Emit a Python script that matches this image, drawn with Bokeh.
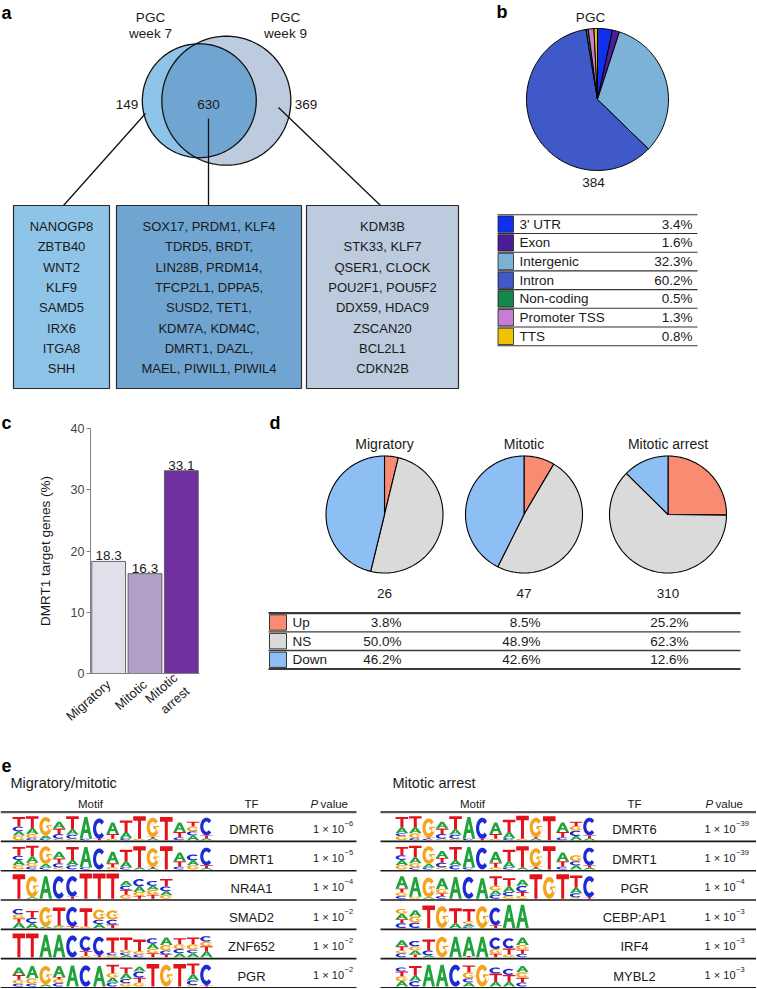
import math
import numpy as np
from bokeh.plotting import figure
from bokeh.models import Range1d, FactorRange, ColumnDataSource, FixedTicker
from bokeh.layouts import column, row
from bokeh.embed import file_html
from bokeh.resources import INLINE
from bokeh.core.properties import value

S = 1.0
FONT = "Liberation Sans"
INK = "#1a1a1a"
XMAX = 756
YMAX = 988

# ---------------- data ----------------
# panel a
venn_titles = [["PGC", "week 7"], ["PGC", "week 9"]]
only_week7 = 149
shared = 630
only_week9 = 369
genes_week7_only = ["NANOGP8", "ZBTB40", "WNT2", "KLF9", "SAMD5", "IRX6", "ITGA8", "SHH"]
genes_shared = ["SOX17, PRDM1, KLF4", "TDRD5, BRDT,", "LIN28B, PRDM14,", "TFCP2L1, DPPA5,",
                "SUSD2, TET1,", "KDM7A, KDM4C,", "DMRT1, DAZL,", "MAEL, PIWIL1, PIWIL4"]
genes_week9_only = ["KDM3B", "STK33, KLF7", "QSER1, CLOCK", "POU2F1, POU5F2",
                    "DDX59, HDAC9", "ZSCAN20", "BCL2L1", "CDKN2B"]
venn_colors = ["#8ec4e8", "#6fa5d0", "#bccbdd"]  # week7-only, shared, week9-only

# panel b
anno_title = "PGC"
anno_total = 384
anno_names = ["3' UTR", "Exon", "Intergenic", "Intron", "Non-coding", "Promoter TSS", "TTS"]
anno_pct = [3.4, 1.6, 32.3, 60.2, 0.5, 1.3, 0.8]
anno_colors = ["#1030f0", "#4b1d96", "#7db2d8", "#4059c8", "#14874b", "#c87dd2", "#f0c200"]

# panel c
bar_labels = ["Migratory", "Mitotic", "Mitotic\narrest"]
dmrt1_target_pct = [18.3, 16.3, 33.1]
bar_colors = ["#e2deec", "#b2a0cb", "#7030a0"]
bar_ticks = [0, 10, 20, 30, 40]

# panel d
stage_names = ["Migratory", "Mitotic", "Mitotic arrest"]
stage_counts = [26, 47, 310]
de_classes = ["Up", "NS", "Down"]
de_up = [3.8, 8.5, 25.2]
de_ns = [50.0, 48.9, 62.3]
de_down = [46.2, 42.6, 12.6]
de_colors = ["#f88b72", "#dadada", "#8dbff5"]

# panel e
left_title = "Migratory/mitotic"
right_title = "Mitotic arrest"
left_tf = ["DMRT6", "DMRT1", "NR4A1", "SMAD2", "ZNF652", "PGR"]
left_p_exp = [-6, -5, -4, -2, -2, -2]
right_tf = ["DMRT6", "DMRT1", "PGR", "CEBP:AP1", "IRF4", "MYBL2"]
right_p_exp = [-39, -39, -4, -3, -3, -3]

# sequence logos: per position, letters bottom->top with height in bits
logo_dmrt6_l = ["G.35 A.3 C.35 T.7", "C.15 G.3 A.45 T.85", "C.1 A.25 G1.35", "G.1 C.35 T.4 A.5",
                "G.1 C.3 A.4 T.95", "C.1 A1.6", "T.1 C1.5", "G.1 T.35 A.85", "C.15 A.45 T.85",
                "G.1 T1.65", "A.15 T.1 G1.4", "T1.7", "C.2 T.4 A.7", "A.35 C.3 G.35 T.35", "A.15 T.2 C1.3"]
logo_dmrt1_l = ["G.3 A.4 C.3 T.65", "C.2 G.3 A.45 T.8", "C.15 A.25 G1.3", "G.15 C.3 T.35 A.5",
                "C.3 A.4 T.95", "C.15 A1.5", "C1.55", "G.15 T.3 A.85", "C.15 A.45 T.85",
                "A.15 T1.55", "A.1 T.1 G1.35", "T1.7", "C.2 T.4 A.65", "G.3 A.35 C.45", "A.1 T.2 C1.3"]
logo_nr4a1_l = ["T1.8", "A.1 G1.55", "A1.65", "C1.65", "T.15 C1.5", "T1.85", "T1.85", "T1.85",
                "G.3 T.35 C.3 A.35", "T.2 G.3 A.4 C.55", "T.3 G.35 A.3 C.35", "G.25 A.3 C.35 T.55"]
logo_smad2_l = ["A.4 T.3 G.3 C.4", "A.35 C.4 T.5", "A.1 G1.45", "G.1 A.1 T1.3", "T.1 C1.45",
                "G.1 T1.35", "A.3 C.3 G.75", "T.25 C.35 G.7"]
logo_znf652_l = ["T1.75", "T1.75", "A1.65", "A1.65", "C1.6", "G.1 T.35 C1.1", "T.15 C1.35",
                 "G.15 C.2 T1.1", "A.15 C.2 G.2 T.9", "C.2 G.25 T.85", "T.3 G.3 A.4 C.4",
                 "T.2 C.3 G.4 A.55", "A.3 C.3 G.35 T.45", "A.3 C.25 G.4 T.5", "A.45 T.35 G.35 C.4"]
logo_pgr_l = ["C.2 G.3 T.35 A.55", "C.2 G.4 A.9", "A.15 G1.35", "C.25 G.3 T.15 A.8", "A1.55",
              "C1.55", "A1.5", "C.3 A.35 G.35 T.6", "G.25 C.3 A.4 T.45", "G.3 T.35 C.45 A.35",
              "T1.65", "G1.6", "T1.65", "G.1 C.35 A.45 T.8", "T.1 C1.5"]
logo_dmrt6_r = ["G.3 C.2 A.45 T.75", "C.15 G.35 A.45 T.8", "C.1 T.1 G1.4", "G.1 C.35 T.4 A.5",
                "G.1 C.3 A.4 T.95", "C.1 A1.6", "T.1 C1.55", "G.1 T.35 A.85", "C.15 A.45 T.9",
                "G.1 T1.7", "A.15 T.1 G1.4", "T1.75", "C.2 T.4 A.7", "A.3 C.4 G.35 T.3", "A.15 T.2 C1.3"]
logo_dmrt1_r = ["G.3 A.4 C.35 T.6", "C.15 G.3 A.45 T.85", "C.15 A.25 G1.3", "G.15 C.35 T.35 A.5",
                "C.3 A.4 T.95", "C.15 A1.5", "C1.6", "G.15 T.35 A.8", "C.15 A.45 T.85",
                "A.15 T1.55", "A.1 T.1 G1.35", "T1.7", "C.2 T.4 A.65", "A.3 C.3 G.45", "A.15 T.15 C1.3"]
logo_pgr_r = ["C.2 G.25 T.3 A.9", "G.15 A1.45", "A.1 G1.45", "C.2 T.2 G.3 A.8", "A1.6", "C1.6",
              "A1.5", "C.3 A.3 G.35 T.7", "G.2 C.3 A.4 T.6", "G.2 T.3 C.45 A.45", "T1.8", "G1.6",
              "T1.8", "G.1 C.3 A.4 T.9", "T.1 C1.55"]
logo_cebp_r = ["C.35 T.3 A.4 G.35", "C.4 G.45 A.45", "T1.65", "G1.6", "A.35 T1.1",
               "C.1 A.2 G.2 T.9", "G1.6", "T.2 C1.3", "A1.7", "A1.7"]
logo_irf4_r = ["C.3 G.2 T.3 A.45", "T.2 A.3 G.3 C.4", "A.15 C.35 T.8", "G1.5", "A1.5", "T.1 A1.4",
               "A1.5", "T.25 G.35 C.85", "G.2 T.45 C.75", "C.25 T.3 G.35 A.55"]
logo_mybl2_r = ["A.4 G.35 T.35 C.3", "C.4 A.4 T.7", "A1.6", "A1.6", "C1.6", "A.3 C.3 G.45 T.5",
                "G1.6", "A.35 T.6 C.45", "A.35 T.5 C.45", "C.3 T.35 G.4 A.45"]
logo_colors = {"A": "#21a33c", "C": "#1b2bd6", "G": "#f5a31a", "T": "#e3131b"}


# ---------------- helpers ----------------
def fs(px):
    return f"{px * S:.2f}px"


def no_align(p):
    try:
        p.frame_align = False
    except Exception:
        pass


def canvas(x0, x1, y0, y1):
    p = figure(width=round((x1 - x0) * S), height=round((y1 - y0) * S),
               x_range=Range1d(x0, x1), y_range=Range1d(y1, y0),
               output_backend="svg", toolbar_location=None, title=None,
               x_axis_location=None, y_axis_location=None, min_border=0,
               outline_line_color=None, background_fill_color="white",
               border_fill_color="white")
    p.xgrid.visible = False
    p.ygrid.visible = False
    no_align(p)
    return p


def txt(p, x, y, s, size, align="center", baseline="middle", style="normal", color=INK):
    p.text(x=[x], y=[y], text=[s], text_font=value(FONT), text_font_size=fs(size),
           text_align=align, text_baseline=baseline, text_font_style=style, text_color=color)


def circle_pts(cx, cy, r, n=180):
    t = np.linspace(0, 2 * np.pi, n, endpoint=False)
    return list(cx + r * np.cos(t)), list(cy + r * np.sin(t))


def pie(p, cx, cy, r, pcts, colors, lw=1.0):
    tot = sum(pcts)
    xs, ys = [], []
    cum = 0.0
    for v in pcts:
        f = v / tot
        t = np.linspace(2 * np.pi * cum, 2 * np.pi * (cum + f), max(3, int(f * 200) + 2))
        xs.append([cx] + list(cx + r * np.sin(t)))
        ys.append([cy] + list(cy - r * np.cos(t)))
        cum += f
    p.patches(xs=xs, ys=ys, fill_color=colors, line_color="black", line_width=lw)


# ---------------- top canvas: panels a & b ----------------
top = canvas(0, XMAX, 0, 400)
txt(top, 1, 12, "a", 18, align="left", style="bold", color="black")

n7 = only_week7 + shared
n9 = only_week9 + shared
R9 = 64.5
k = R9 / math.sqrt(n9)
r7 = k * math.sqrt(n7)
r9 = R9
target = math.pi * k * k * shared


def lens_area(d):
    a1 = (d * d + r7 * r7 - r9 * r9) / (2 * d * r7)
    a2 = (d * d + r9 * r9 - r7 * r7) / (2 * d * r9)
    sq = (-d + r7 + r9) * (d + r7 - r9) * (d - r7 + r9) * (d + r7 + r9)
    return r7 * r7 * math.acos(a1) + r9 * r9 * math.acos(a2) - 0.5 * math.sqrt(max(sq, 0))


lo, hi = r9 - r7 + 1e-6, r9 + r7 - 1e-6
for _ in range(80):
    mid = 0.5 * (lo + hi)
    if lens_area(mid) > target:
        lo = mid
    else:
        hi = mid
d = 0.5 * (lo + hi)
c7x, cy = 198.8, 100.2
c9x = c7x + d

x9, y9 = circle_pts(c9x, cy, r9)
x7, y7 = circle_pts(c7x, cy, r7)
top.patch(x9, y9, fill_color=venn_colors[2], line_color=None)
top.patch(x7, y7, fill_color=venn_colors[0], line_color=None)
a = (d * d + r7 * r7 - r9 * r9) / (2 * d)
h = math.sqrt(r7 * r7 - a * a)
phi = math.atan2(h, a)
psi = math.atan2(h, a - d)
t1 = np.linspace(phi, -phi, 120)
t2 = np.linspace(2 * np.pi - psi, psi, 120)
lx = list(c7x + r7 * np.cos(t1)) + list(c9x + r9 * np.cos(t2))
ly = list(cy - r7 * np.sin(t1)) + list(cy - r9 * np.sin(t2))
top.patch(lx, ly, fill_color=venn_colors[1], line_color=None)
top.patch(x9 + [x9[0]], y9 + [y9[0]], fill_color=None, line_color="#111", line_width=1.3)
top.patch(x7 + [x7[0]], y7 + [y7[0]], fill_color=None, line_color="#111", line_width=1.3)

for (l1, l2), xc in zip(venn_titles, [150, 285]):
    txt(top, xc, 17, l1, 13.5)
    txt(top, xc, 33, l2, 13.5)
txt(top, c7x - r7 - 4, 104, str(only_week7), 13.5, align="right")
txt(top, 208, 104, str(shared), 13.5)
txt(top, c9x + r9 + 4, 104, str(only_week9), 13.5, align="left")

box_left = [13, 116, 306]
box_right = [109, 301, 458]
box_top, box_bot = 205, 388
box_cx = [(l + r) / 2 for l, r in zip(box_left, box_right)]
top.segment(x0=[145, 208, 278], y0=[113, 118, 107], x1=[box_cx[0] + 2, 208, box_cx[2] - 2],
            y1=[box_top] * 3, line_color="#111", line_width=1.3)
top.quad(left=box_left, right=box_right, top=[box_top] * 3, bottom=[box_bot] * 3,
         fill_color=venn_colors, line_color="#2a2a2a", line_width=1.2)
for genes, xc in zip([genes_week7_only, genes_shared, genes_week9_only], box_cx):
    for i, g in enumerate(genes):
        txt(top, xc, 226 + i * 20.3, g, 13)

# panel b
txt(top, 496, 11, "b", 18, align="left", style="bold", color="black")
txt(top, 590, 17, anno_title, 13.5)
pie(top, 597, 99, 71, anno_pct, anno_colors, lw=1.0)
txt(top, 593, 182, str(anno_total), 13.5)
lg_top, lg_h, lg_l, lg_r = 214.3, 18.7, 497, 697
n = len(anno_names)
top.segment(x0=[lg_l] * (n + 1), x1=[lg_r] * (n + 1), y0=[lg_top + i * lg_h for i in range(n + 1)],
            y1=[lg_top + i * lg_h for i in range(n + 1)], line_color="#333", line_width=1.1)
top.quad(left=[lg_l + 0.5] * n, right=[lg_l + 16] * n,
         top=[lg_top + i * lg_h + 1.2 for i in range(n)],
         bottom=[lg_top + (i + 1) * lg_h - 1.2 for i in range(n)],
         fill_color=anno_colors, line_color="#222", line_width=0.8)
for i, (nm, v) in enumerate(zip(anno_names, anno_pct)):
    yc = lg_top + (i + 0.5) * lg_h
    txt(top, 519, yc, nm, 13.5, align="left")
    txt(top, 692, yc, f"{v:.1f}%", 13.5, align="right")

# ---------------- panel c: label strip + bar chart ----------------
figCL = canvas(0, 20, 400, 735)
txt(figCL, 1, 422, "c", 18, align="left", style="bold", color="black")

C_X0, C_X1 = 20, 265
WC, HC = round((C_X1 - C_X0) * S), round(335 * S)
fr_left = round((90 - C_X0) * S)
fr_right = round((C_X1 - 199) * S)
fr_top = round(28.3 * S)
fr_bot = HC - fr_top - round(247.4 * S)
figC = figure(width=WC, height=HC, x_range=FactorRange(factors=bar_labels, range_padding=0.0),
              y_range=Range1d(0, 40), output_backend="svg", toolbar_location=None, title=None,
              min_border_left=fr_left, min_border_right=fr_right, min_border_top=fr_top,
              min_border_bottom=fr_bot, outline_line_color=None,
              background_fill_color="white", border_fill_color="white")
no_align(figC)
figC.xgrid.visible = False
figC.ygrid.visible = False
srcC = ColumnDataSource(dict(x=bar_labels, top=dmrt1_target_pct, color=bar_colors,
                             lab=[f"{v:.1f}" for v in dmrt1_target_pct]))
figC.vbar(x="x", top="top", width=0.93, fill_color="color", line_color="#555", line_width=0.9,
          source=srcC)
figC.text(x="x", y="top", text="lab", source=srcC, text_font=value(FONT), text_font_size=fs(13.5),
          text_align="center", text_baseline="bottom", y_offset=-1, text_color=INK)
ya = figC.yaxis[0]
ya.ticker = FixedTicker(ticks=bar_ticks)
ya.axis_label = "DMRT1 target genes (%)"
ya.axis_label_text_font = FONT
ya.axis_label_text_font_size = fs(13.5)
ya.axis_label_text_font_style = "normal"
ya.axis_label_text_color = INK
ya.axis_label_standoff = 15
ya.major_label_text_font = FONT
ya.major_label_text_font_size = fs(12.5)
ya.major_label_text_color = "#444"
ya.major_label_standoff = 2
ya.major_tick_in = 0
ya.major_tick_out = 4
ya.minor_tick_line_color = None
ya.axis_line_color = "#808080"
ya.major_tick_line_color = "#808080"
xa = figC.xaxis[0]
xa.major_tick_line_color = None
xa.minor_tick_line_color = None
xa.axis_line_color = "#808080"
xa.major_label_orientation = 0.72
xa.major_label_standoff = 3
xa.major_label_text_font = FONT
xa.major_label_text_font_size = fs(13)
xa.major_label_text_color = INK

# ---------------- panel d ----------------
figD = canvas(265, XMAX, 400, 735)
txt(figD, 269, 422, "d", 18, align="left", style="bold", color="black")
pie_x = [384, 523.5, 667.5]
for j, xc in enumerate(pie_x):
    txt(figD, xc, 443, stage_names[j], 14)
    pie(figD, xc, 514, 58.5, [de_up[j], de_ns[j], de_down[j]], de_colors, lw=1.1)
    txt(figD, xc, 593, str(stage_counts[j]), 13.5)
tb_lines = [612.7, 631.3, 650.0, 668.5]
tb_l, tb_r = 268, 740
figD.segment(x0=[tb_l] * 4, x1=[tb_r] * 4, y0=tb_lines, y1=tb_lines, line_color="#3a3a3a",
             line_width=[2.2, 1.3, 1.3, 2.2])
figD.quad(left=[269] * 3, right=[286] * 3, top=[tb_lines[i] + 1.6 for i in range(3)],
          bottom=[tb_lines[i + 1] - 1.6 for i in range(3)], fill_color=de_colors,
          line_color="#222", line_width=0.9)
val_right = [401, 540, 688]
for i, (cls, vals) in enumerate(zip(de_classes, [de_up, de_ns, de_down])):
    yc = (tb_lines[i] + tb_lines[i + 1]) / 2
    txt(figD, 292, yc, cls, 13.5, align="left")
    for j in range(3):
        txt(figD, val_right[j], yc, f"{vals[j]:.1f}%", 13.5, align="right")

# ---------------- panel e ----------------
figE = canvas(0, XMAX, 735, YMAX)
txt(figE, 1, 765, "e", 18, align="left", style="bold", color="black")

A_OUT = [(0, 0), (0.38, 1), (0.62, 1), (1, 0), (0.76, 0), (0.665, 0.27), (0.335, 0.27), (0.24, 0)]
A_HOLE = [(0.40, 0.43), (0.60, 0.43), (0.5, 0.73)]
T_SHP = [(0, 1), (1, 1), (1, 0.8), (0.62, 0.8), (0.62, 0), (0.38, 0), (0.38, 0.8), (0, 0.8)]


def arc_ring(a0, a1, n=26):
    t = np.radians(np.linspace(a0, a1, n))
    outer = [(0.5 + 0.5 * math.cos(v), 0.5 + 0.5 * math.sin(v)) for v in t]
    inner = [(0.5 + 0.25 * math.cos(v), 0.5 + 0.29 * math.sin(v)) for v in t[::-1]]
    return outer + inner


SHAPES = {
    "A": [[A_OUT, A_HOLE]],
    "T": [[T_SHP]],
    "C": [[arc_ring(42, 318)]],
    "G": [[arc_ring(38, 360)], [[(0.55, 0.56), (1.0, 0.56), (1.0, 0.28), (0.8, 0.28), (0.8, 0.41), (0.55, 0.41)]]],
}

row_top0 = 811.7
row_h = 29.27
BIT = 13.6
COLW = 13.4
XS, YS, COLS = [], [], []


def add_logo(stacks, x_start, row_i):
    base = row_top0 + (row_i + 1) * row_h - 1.3
    for i, st in enumerate(stacks):
        x0 = x_start + i * COLW + 0.4
        w = COLW - 0.8
        yb = base
        for tok in st.split():
            L, hb = tok[0], float(tok[1:])
            hp = hb * BIT
            polys_x, polys_y = [], []
            for poly in SHAPES[L]:
                polys_x.append([[x0 + u * w for u, v in ring] for ring in poly])
                polys_y.append([[yb - v * hp for u, v in ring] for ring in poly])
            XS.append(polys_x)
            YS.append(polys_y)
            COLS.append(logo_colors[L])
            yb -= hp


left_logos = [logo_dmrt6_l, logo_dmrt1_l, logo_nr4a1_l, logo_smad2_l, logo_znf652_l, logo_pgr_l]
right_logos = [logo_dmrt6_r, logo_dmrt1_r, logo_pgr_r, logo_cebp_r, logo_irf4_r, logo_mybl2_r]
for r_i, st in enumerate(left_logos):
    add_logo(st, 11.7, r_i)
for r_i, st in enumerate(right_logos):
    add_logo(st, 394.7, r_i)
figE.multi_polygons(xs=XS, ys=YS, fill_color=COLS, line_color=None)

tables = [
    dict(title=left_title, tx=10, l=0, r=356, motif_x=90, tf_x=251, pv_x=343.5, p_x=310,
         tfs=left_tf, exps=left_p_exp),
    dict(title=right_title, tx=392, l=380, r=XMAX, motif_x=472, tf_x=634, pv_x=735, p_x=705,
         tfs=right_tf, exps=right_p_exp),
]
for tb in tables:
    txt(figE, tb["tx"], 782, tb["title"], 14.5, align="left")
    txt(figE, tb["motif_x"], 803, "Motif", 11.5)
    txt(figE, tb["tf_x"], 803, "TF", 11.5)
    txt(figE, tb["p_x"], 803, "P", 11.5, align="left", style="italic")
    txt(figE, tb["p_x"] + 10, 803, "value", 11.5, align="left")
    ys_l = [row_top0 + i * row_h for i in range(7)]
    figE.segment(x0=[tb["l"]] * 7, x1=[tb["r"]] * 7, y0=ys_l, y1=ys_l,
                 line_color=["#555"] + ["#1a1a1a"] * 6, line_width=[2.2] + [1.7] * 6)
    for i, (tf, e) in enumerate(zip(tb["tfs"], tb["exps"])):
        yc = row_top0 + (i + 0.5) * row_h
        txt(figE, tb["tf_x"], yc + 3, tf, 13)
        txt(figE, tb["pv_x"], yc + 2, "1 \u00d7 10", 11, align="right")
        txt(figE, tb["pv_x"] + 0.6, yc - 3.5, f"\u2212{abs(e)}", 7.5, align="left")

layout = column(top, row(figCL, figC, figD), figE)
open("out.html", "w").write(file_html(layout, INLINE))
